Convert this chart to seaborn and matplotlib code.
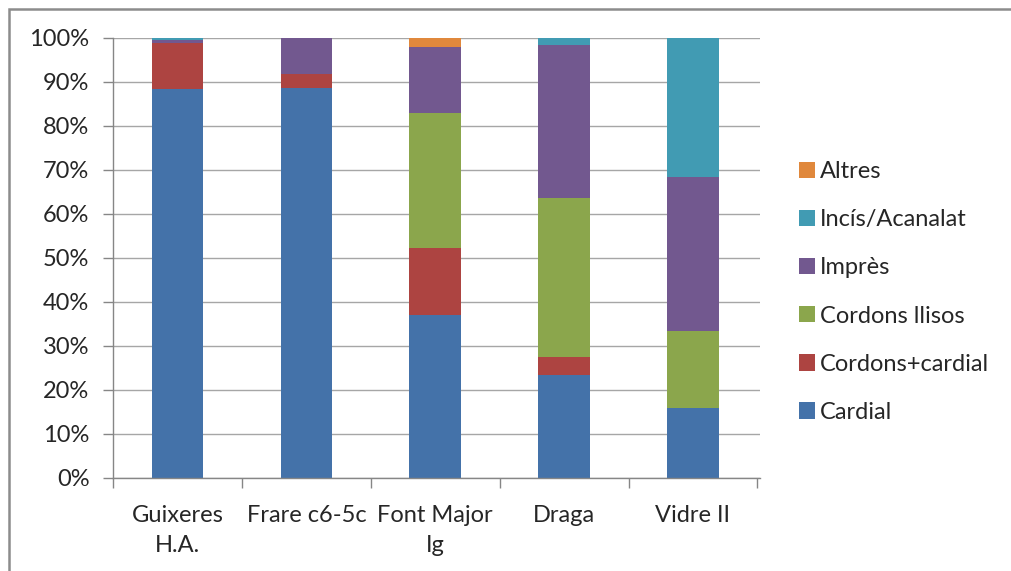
import pandas as pd
import matplotlib.pyplot as plt
import seaborn as sns
from matplotlib.patches import Patch, Rectangle

# Dades (percentatges llegits del gràfic)
sites = ["Guixeres\nH.A.", "Frare c6-5c", "Font Major\nIg", "Draga", "Vidre II"]
series = ["Cardial", "Cordons+cardial", "Cordons llisos", "Imprès", "Incís/Acanalat", "Altres"]
cardial = [88.4, 88.7, 37.0, 23.4, 16.0]
cordons_cardial = [10.5, 3.2, 15.3, 4.2, 0.0]
cordons_llisos = [0.0, 0.0, 30.6, 36.0, 17.3]
impres = [0.7, 8.1, 15.1, 34.8, 35.2]
incis = [0.4, 0.0, 0.0, 1.6, 31.5]
altres = [0.0, 0.0, 2.0, 0.0, 0.0]
colors = ["#4472A9", "#AD4441", "#8BA64C", "#72588F", "#419BB3", "#E0883C"]

df = pd.DataFrame({
    "site": sites,
    "Cardial": cardial,
    "Cordons+cardial": cordons_cardial,
    "Cordons llisos": cordons_llisos,
    "Imprès": impres,
    "Incís/Acanalat": incis,
    "Altres": altres,
})
cum = df[series].cumsum(axis=1)
cum["site"] = df["site"]

sns.set_theme(style="white")
plt.rcParams["font.family"] = ["Lato", "DejaVu Sans"]
fs = 17

fig = plt.figure(figsize=(10.11, 5.71), dpi=100)
ax = fig.add_axes([113 / 1011, 93 / 571, 647 / 1011, 440 / 571])

# barres apilades: de la suma total cap avall
for name, col in zip(reversed(series), reversed(colors)):
    sns.barplot(data=cum, x="site", y=name, color=col, width=0.4,
                saturation=1, linewidth=0, ax=ax)

ax.set_axisbelow(True)
ax.yaxis.grid(True, color="#A6A6A6", lw=1)
ax.set_ylim(0, 100)
ax.set_xlim(-0.5, 4.52)
ax.set_yticks(range(0, 101, 10))
ax.set_yticklabels([f"{v}%" for v in range(0, 101, 10)], fontsize=fs, color="#262626")
ax.set_xticks([i - 0.5 for i in range(6)])
ax.set_xticklabels([])
ax.set_xticks(range(5), minor=True)
ax.set_xticklabels(sites, minor=True, fontsize=fs, color="#262626", linespacing=1.55)
ax.tick_params(axis="y", which="major", left=True, length=7, width=1, color="#868686", pad=10)
ax.tick_params(axis="x", which="major", bottom=True, length=7, width=1, color="#868686")
ax.tick_params(axis="x", which="minor", bottom=True, length=0, pad=19.5)
ax.set_xlabel("")
ax.set_ylabel("")
for s in ["top", "right"]:
    ax.spines[s].set_visible(False)
for s in ["left", "bottom"]:
    ax.spines[s].set_color("#868686")
    ax.spines[s].set_linewidth(1)

handles = [Patch(facecolor=c, edgecolor="none", label=n)
           for n, c in zip(reversed(series), reversed(colors))]
fig.legend(handles=handles, loc="center left", bbox_to_anchor=(799 / 1011, 1 - 292 / 571),
           bbox_transform=fig.transFigure, frameon=False, fontsize=fs,
           handlelength=0.68, handleheight=0.68, handletextpad=0.22,
           labelspacing=1.15, borderpad=0, borderaxespad=0, labelcolor="#262626")

# marc del gràfic
fig.add_artist(Rectangle((9 / 1011, -0.05), 1.1, 1.05 - 9 / 571, transform=fig.transFigure,
                         fill=False, edgecolor="#8C8C8C", lw=1.8))

fig.savefig("out.png", dpi=100)
